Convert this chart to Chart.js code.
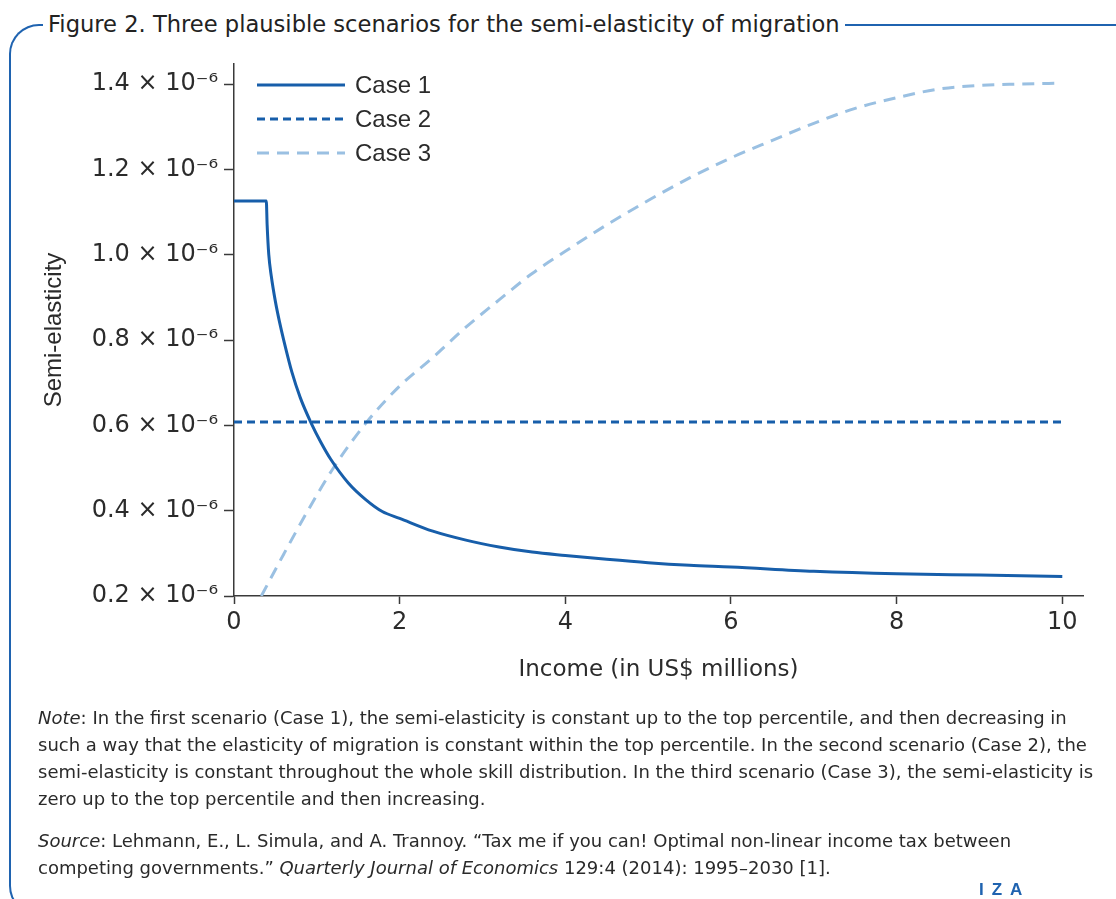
<!DOCTYPE html>
<html>
<head>
<meta charset="utf-8">
<script src="https://cdn.jsdelivr.net/npm/chart.js@4"></script>
<style>
  body { margin: 0; background: #fff; width: 1116px; height: 899px; overflow: hidden; position: relative;
         font-family: "DejaVu Sans", "Liberation Sans", sans-serif; color: #2a2a2a; }
  #chart { position: absolute; left: 0; top: 0; }
  #frame { position: absolute; left: 9px; top: 24px; width: 1200px; height: 892px; box-sizing: border-box;
           border-left: 2px solid #1f63b0; border-top: 2px solid #1f63b0; border-bottom: 2px solid #1f63b0;
           border-radius: 30px 0 0 30px; }
  #title { position: absolute; left: 43px; top: 10px; padding: 0 5px; background: #fff; font-size: 22.6px;
           line-height: 28px; white-space: nowrap; color: #222; }
  .notes { position: absolute; left: 38px; font-size: 18px; line-height: 27px; white-space: nowrap; color: #2a2a2a; }
  #note { top: 704px; }
  #source { top: 827px; }
  #iza { position: absolute; left: 979px; top: 880px; font-family: "Liberation Sans", sans-serif; font-size: 17px;
         font-weight: bold; letter-spacing: 8px; color: #1f63b0; }
</style>
</head>
<body>
<canvas id="chart" width="1116" height="700"></canvas>
<div id="frame"></div>
<div id="title">Figure 2. Three plausible scenarios for the semi-elasticity of migration</div>
<div class="notes" id="note">
<i>Note</i>: In the first scenario (Case 1), the semi-elasticity is constant up to the top percentile, and then decreasing in<br>
such a way that the elasticity of migration is constant within the top percentile. In the second scenario (Case 2), the<br>
semi-elasticity is constant throughout the whole skill distribution. In the third scenario (Case 3), the semi-elasticity is<br>
zero up to the top percentile and then increasing.
</div>
<div class="notes" id="source">
<i>Source</i>: Lehmann, E., L. Simula, and A. Trannoy. “Tax me if you can! Optimal non-linear income tax between<br>
competing governments.” <i>Quarterly Journal of Economics</i> 129:4 (2014): 1995–2030 [1].
</div>
<div id="iza">IZA</div>
<script>
// values are in units of 10^-6
const case1Income = [0, 0.39, 0.40, 0.42, 0.45, 0.5, 0.55, 0.6, 0.7, 0.8, 0.93, 1.05, 1.17, 1.38, 1.59, 1.79,
  2.0, 2.4, 2.8, 3.2, 3.6, 4.0, 4.5, 5.0, 5.5, 6.0, 7.0, 8.0, 9.0, 10.0];
const case1Values = [1.126, 1.126, 1.07, 1.0, 0.95, 0.89, 0.842, 0.80, 0.724, 0.665, 0.606, 0.56, 0.52, 0.465, 0.426, 0.398,
  0.382, 0.352, 0.331, 0.315, 0.303, 0.295, 0.286, 0.278, 0.272, 0.268, 0.258, 0.252, 0.249, 0.246];

const case2Income = [0, 10];
const case2Values = [0.608, 0.608];

const case3Income = [0.33, 0.6, 0.9, 1.2, 1.6, 2.0, 2.4, 2.8, 3.2, 3.6, 4.0, 4.5, 5.0, 5.5, 6.0, 6.5, 7.0, 7.5,
  8.0, 8.5, 9.0, 9.5, 10.0];
const case3Values = [0.200, 0.298, 0.403, 0.500, 0.607, 0.692, 0.759, 0.830, 0.894, 0.956, 1.008, 1.070, 1.127, 1.180,
  1.227, 1.268, 1.308, 1.343, 1.368, 1.388, 1.397, 1.400, 1.402];

const xTicks = [0, 2, 4, 6, 8, 10];
const yTicks = [0.2, 0.4, 0.6, 0.8, 1.0, 1.2, 1.4];

const toPoints = (xs, ys) => xs.map((x, i) => ({ x: x, y: ys[i] }));

const darkBlue = '#175eaa';
const lightBlue = '#9ac0e2';
const axisColor = '#3a3a3a';
const textColor = '#2b2b2b';
const wideFont = '"DejaVu Sans", sans-serif';
const plainFont = '"Liberation Sans", Arial, sans-serif';

// legend drawn inside the plot, top left
const legendPlugin = {
  id: 'innerLegend',
  afterDatasetsDraw(chart) {
    const ctx = chart.ctx;
    const area = chart.chartArea;
    ctx.save();
    ctx.font = '24px ' + plainFont;
    ctx.textBaseline = 'middle';
    ctx.fillStyle = textColor;
    chart.data.datasets.forEach((ds, i) => {
      const y = area.top + 21 + i * 34;
      ctx.strokeStyle = ds.borderColor;
      ctx.lineWidth = ds.borderWidth;
      ctx.setLineDash(ds.borderDash || []);
      ctx.beginPath();
      ctx.moveTo(area.left + 23, y);
      ctx.lineTo(area.left + 111, y);
      ctx.stroke();
      ctx.setLineDash([]);
      ctx.fillText(ds.label, area.left + 121, y + 1);
    });
    ctx.restore();
  }
};

const ctx = document.getElementById('chart').getContext('2d');
const chart = new Chart(ctx, {
  type: 'line',
  data: {
    datasets: [{
      label: 'Case 1',
      data: toPoints(case1Income, case1Values),
      borderColor: darkBlue,
      borderWidth: 3,
      cubicInterpolationMode: 'monotone'
    }, {
      label: 'Case 2',
      data: toPoints(case2Income, case2Values),
      borderColor: darkBlue,
      borderWidth: 3,
      borderDash: [8, 5]
    }, {
      label: 'Case 3',
      data: toPoints(case3Income, case3Values),
      borderColor: lightBlue,
      borderWidth: 3,
      borderDash: [12, 8],
      cubicInterpolationMode: 'monotone'
    }]
  },
  options: {
    responsive: false,
    animation: false,
    devicePixelRatio: 1,
    layout: {
      padding: { top: 64, right: 33, bottom: 14, left: 0 }
    },
    elements: {
      point: { radius: 0 },
      line: { borderCapStyle: 'butt' }
    },
    plugins: {
      legend: { display: false },
      tooltip: { enabled: false }
    },
    scales: {
      x: {
        type: 'linear',
        min: 0,
        max: 10.25,
        afterBuildTicks: axis => { axis.ticks = xTicks.map(v => ({ value: v })); },
        afterFit: scale => { scale.height = 90; },
        border: { display: true, color: axisColor, width: 1.5 },
        grid: { drawOnChartArea: false, drawTicks: true, tickLength: 8, tickColor: axisColor, tickWidth: 1.5 },
        ticks: {
          padding: 4,
          color: textColor,
          font: { family: wideFont, size: 24 },
          maxRotation: 0,
          callback: v => String(v)
        },
        title: {
          display: true,
          text: 'Income (in US$ millions)',
          color: textColor,
          font: { family: wideFont, size: 23 },
          padding: { top: 0, bottom: 2 }
        }
      },
      y: {
        type: 'linear',
        min: 0.2,
        max: 1.447,
        afterBuildTicks: axis => { axis.ticks = yTicks.map(v => ({ value: v })); },
        afterFit: scale => { scale.width = 234; },
        border: { display: true, color: axisColor, width: 1.5 },
        grid: { drawOnChartArea: false, drawTicks: true, tickLength: 10, tickColor: axisColor, tickWidth: 1.5 },
        ticks: {
          padding: 6,
          color: textColor,
          font: { family: wideFont, size: 24 },
          callback: v => v.toFixed(1) + ' × 10⁻⁶'
        },
        title: {
          display: true,
          text: 'Semi-elasticity',
          color: textColor,
          font: { family: plainFont, size: 24 },
          padding: { top: 40, bottom: 0 }
        }
      }
    }
  },
  plugins: [legendPlugin]
});
</script>
</body>
</html>
